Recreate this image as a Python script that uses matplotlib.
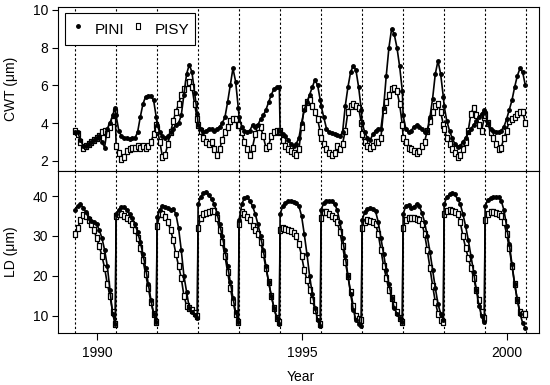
import numpy as np
import matplotlib
matplotlib.use("Agg")
import matplotlib.pyplot as plt
from matplotlib.lines import Line2D

plt.rcParams['font.family'] = ['Liberation Sans', 'DejaVu Sans']

# start of each growing season (dashed lines), decimal years
season_start = [1989.47, 1990.47, 1991.47, 1992.47, 1993.47, 1994.47,
                1995.47, 1996.47, 1997.47, 1998.47, 1999.47]
season_end = 2000.47

# cell wall thickness, um (16 samples per season)
cwt_pini = [
    [3.5, 3.5, 3.1, 2.8, 2.8, 2.9, 3.0, 3.1, 3.2, 3.3, 3.0, 2.7, 3.7, 4.0, 4.4, 4.8],
    [4.4, 3.6, 3.3, 3.2, 3.2, 3.15, 3.2, 3.2, 3.5, 4.3, 5.0, 5.4, 5.45, 5.45, 5.2, 4.3],
    [3.9, 3.5, 3.3, 3.2, 3.3, 3.5, 3.7, 3.9, 4.0, 4.4, 5.5, 6.6, 7.1, 6.7, 5.6, 4.5],
    [3.9, 3.7, 3.5, 3.6, 3.7, 3.7, 3.6, 3.7, 3.8, 4.0, 4.3, 5.1, 6.0, 6.9, 6.2, 4.8],
    [4.3, 3.8, 3.6, 3.5, 3.6, 3.9, 3.8, 3.9, 4.2, 4.4, 4.7, 5.1, 5.5, 5.8, 5.9, 5.9],
    [3.6, 3.4, 3.3, 3.1, 2.9, 2.8, 2.9, 3.2, 4.0, 4.7, 5.1, 5.5, 5.9, 6.3, 6.0, 5.2],
    [4.9, 4.3, 3.7, 3.5, 3.45, 3.4, 3.35, 3.3, 3.5, 4.9, 5.9, 6.7, 7.05, 6.8, 5.9, 4.7],
    [4.0, 3.5, 3.2, 3.1, 3.4, 3.6, 3.7, 3.7, 4.8, 6.5, 8.0, 9.0, 8.7, 8.0, 7.0, 5.7],
    [4.4, 3.7, 3.5, 3.6, 3.8, 3.9, 3.8, 3.7, 3.5, 3.6, 4.3, 5.3, 6.6, 7.3, 6.6, 5.4],
    [4.9, 4.1, 3.6, 3.2, 2.9, 2.75, 2.8, 3.0, 3.2, 3.5, 3.7, 3.9, 4.1, 4.3, 4.5, 4.7],
    [4.6, 4.0, 3.7, 3.6, 3.5, 3.5, 3.6, 3.8, 4.2, 4.7, 5.2, 5.9, 6.5, 6.9, 6.7, 6.0],
]
cwt_pisy = [
    [3.6, 3.4, 3.0, 2.7, 2.8, 2.9, 3.0, 3.1, 3.2, 3.3, 3.5, 3.6, 3.4, 3.8, 4.1, 4.6],
    [2.8, 2.4, 2.1, 2.2, 2.5, 2.6, 2.7, 2.7, 2.8, 2.7, 2.8, 2.7, 2.8, 3.0, 3.4, 3.9],
    [3.7, 3.0, 2.2, 2.3, 2.9, 3.5, 4.1, 4.6, 5.0, 5.5, 5.8, 6.1, 6.2, 5.9, 5.0, 4.2],
    [3.9, 3.6, 3.2, 3.0, 2.9, 3.0, 2.6, 2.3, 2.6, 3.1, 3.5, 3.8, 4.1, 4.2, 4.2, 3.9],
    [3.9, 3.5, 3.0, 2.6, 2.3, 2.7, 3.4, 3.8, 3.8, 3.3, 2.7, 2.8, 3.3, 3.5, 3.6, 3.5],
    [3.6, 3.1, 2.8, 2.6, 2.5, 2.4, 2.3, 2.6, 3.8, 4.8, 5.1, 5.2, 4.9, 4.6, 4.2, 3.5],
    [3.2, 2.9, 2.6, 2.4, 2.3, 2.4, 2.8, 2.6, 2.9, 3.6, 4.6, 4.9, 5.0, 4.9, 4.8, 4.0],
    [3.4, 3.0, 2.8, 2.7, 2.8, 3.0, 3.0, 3.2, 4.7, 5.1, 5.5, 5.8, 5.85, 5.7, 5.0, 3.9],
    [3.2, 3.0, 2.7, 2.6, 2.5, 2.4, 2.5, 2.8, 3.0, 3.6, 4.1, 4.6, 4.9, 5.0, 4.6, 3.9],
    [3.7, 3.2, 2.9, 2.6, 2.4, 2.2, 2.3, 2.6, 3.0, 3.6, 4.5, 4.8, 4.4, 3.9, 3.6, 4.3],
    [4.4, 4.0, 3.5, 3.2, 2.9, 2.6, 2.7, 3.2, 3.6, 4.1, 4.2, 4.3, 4.5, 4.6, 4.6, 4.0],
]

# lumen diameter, um
ld_pini = [
    [36.5, 37.5, 38.0, 37.0, 36.0, 34.5, 33.8, 33.5, 33.0, 31.5, 29.5, 26.5, 22.5, 16.5, 10.5, 7.8],
    [35.5, 36.5, 37.3, 37.2, 36.5, 35.5, 34.5, 33.0, 31.0, 28.5, 25.5, 22.0, 18.0, 14.0, 10.5, 8.3],
    [34.8, 36.5, 37.6, 37.3, 36.9, 36.6, 36.8, 35.5, 32.0, 26.5, 20.0, 16.0, 12.0, 11.0, 10.3, 9.5],
    [38.0, 39.8, 40.7, 41.0, 40.2, 39.3, 38.0, 35.8, 33.0, 30.0, 26.5, 22.5, 18.5, 14.5, 11.0, 8.5],
    [34.0, 38.0, 39.5, 39.8, 38.8, 37.5, 35.5, 33.0, 30.0, 26.5, 22.5, 18.5, 15.0, 12.0, 9.5, 8.0],
    [35.5, 37.5, 38.3, 38.7, 38.8, 38.6, 38.3, 37.5, 35.0, 30.5, 25.5, 20.0, 15.5, 12.0, 9.0, 7.5],
    [36.5, 38.3, 38.8, 38.8, 38.7, 38.0, 36.5, 33.5, 29.5, 25.0, 20.0, 15.5, 11.5, 9.0, 8.0, 7.5],
    [34.0, 36.0, 36.8, 36.9, 36.8, 36.2, 33.5, 29.5, 25.5, 21.5, 18.0, 14.5, 12.0, 10.5, 9.3, 8.3],
    [35.5, 37.5, 37.8, 37.0, 37.3, 38.0, 37.5, 35.8, 33.5, 30.0, 26.0, 21.5, 17.0, 13.0, 10.5, 9.0],
    [38.0, 39.7, 40.4, 40.7, 40.4, 39.2, 38.0, 35.5, 32.5, 29.0, 25.0, 21.0, 16.5, 12.5, 10.0, 8.4],
    [37.5, 39.0, 39.5, 39.7, 39.8, 39.7, 38.8, 36.5, 32.5, 28.0, 23.0, 18.0, 14.0, 10.5, 8.2, 7.0],
]
ld_pisy = [
    [30.5, 32.0, 34.0, 35.2, 35.0, 34.0, 33.0, 31.5, 29.5, 27.5, 25.0, 22.0, 18.0, 15.0, 11.0, 8.0],
    [35.0, 35.5, 35.5, 35.0, 34.5, 34.0, 33.0, 31.5, 29.5, 27.0, 24.0, 20.5, 17.0, 13.5, 10.5, 8.5],
    [32.5, 35.5, 35.5, 34.8, 33.5, 31.5, 29.0, 25.5, 22.5, 19.5, 15.0, 12.5, 12.0, 11.5, 10.8, 9.8],
    [32.0, 34.5, 35.5, 35.8, 36.0, 36.3, 36.2, 34.5, 31.5, 28.5, 25.0, 21.0, 17.0, 13.5, 10.5, 8.3],
    [33.0, 36.0, 35.5, 34.8, 34.0, 32.5, 31.5, 30.5, 28.5, 25.5, 22.0, 18.5, 15.0, 12.0, 9.5, 8.3],
    [31.5, 32.0, 31.8, 31.5, 31.2, 30.8, 30.0, 28.0, 25.0, 21.5, 19.0, 16.5, 14.0, 11.5, 9.5, 7.8],
    [34.5, 36.0, 36.0, 35.5, 35.0, 34.5, 33.5, 31.0, 27.5, 23.5, 20.0, 16.0, 12.5, 10.0, 9.2, 9.0],
    [32.0, 33.5, 34.0, 33.8, 33.5, 33.0, 30.5, 26.5, 22.5, 19.5, 16.5, 14.5, 12.8, 11.0, 9.5, 8.3],
    [32.0, 34.0, 34.5, 34.5, 34.5, 34.3, 34.0, 33.0, 30.5, 26.5, 22.0, 17.5, 13.5, 10.5, 9.0, 8.3],
    [35.5, 36.3, 36.5, 36.3, 36.0, 35.5, 33.5, 30.0, 27.0, 24.5, 22.0, 19.5, 16.5, 14.0, 11.0, 9.5],
    [34.0, 35.5, 36.0, 36.0, 35.8, 35.5, 35.0, 33.5, 30.5, 27.0, 22.5, 18.0, 14.0, 11.0, 10.5, 10.5],
]

# samples spread evenly through each season
t = np.concatenate([s + np.linspace(0, 0.98, len(v))
                    for s, v in zip(season_start, cwt_pini)])

# tall open rectangle like the R square symbol
rect = [(-0.3, -0.5), (0.3, -0.5), (0.3, 0.5), (-0.3, 0.5), (-0.3, -0.5)]
pini_style = dict(color='black', lw=1.2, marker='o', ms=2.5, zorder=4)
pisy_style = dict(color='black', lw=1.2, marker=rect, ms=3.8, mfc='white',
                  mec='black', mew=0.9, zorder=3)

fig = plt.figure(figsize=(5.5, 3.85), dpi=100)
ax1 = fig.add_axes([0.106, 0.5566, 0.8745, 0.4244])
ax2 = fig.add_axes([0.106, 0.1343, 0.8745, 0.4223], sharex=ax1)

for ax, pini, pisy in [(ax1, cwt_pini, cwt_pisy), (ax2, ld_pini, ld_pisy)]:
    for s in season_start + [season_end]:
        ax.axvline(s, color='black', lw=0.8, ls=(0, (2, 2)), zorder=1)
    ax.plot(t, np.concatenate(pisy), **pisy_style)
    ax.plot(t, np.concatenate(pini), **pini_style)
    for sp in ax.spines.values():
        sp.set_linewidth(0.8)
    ax.tick_params(axis='y', direction='out', length=4.5, width=0.8,
                   labelsize=10, pad=3)

ax1.set_xlim(1989.06, 2000.79)
ax1.set_ylim(1.47, 10.14)
ax1.set_yticks([2, 4, 6, 8, 10])
ax1.tick_params(axis='x', bottom=False, labelbottom=False)

ax2.set_ylim(5.59, 46.34)
ax2.set_yticks([10, 20, 30, 40])
ax2.set_xticks([1990, 1995, 2000])
ax2.tick_params(axis='x', direction='out', length=5, width=0.8,
                labelsize=10, pad=4)

fig.text(11 / 550, 1 - 89 / 385, 'CWT (\u03bcm)', rotation=90,
         ha='center', va='center', fontsize=10)
fig.text(11 / 550, 1 - 252 / 385, 'LD (\u03bcm)', rotation=90,
         ha='center', va='center', fontsize=10)
fig.text(301 / 550, 1 - 377 / 385, 'Year', ha='center', va='center',
         fontsize=10)

handles = [Line2D([], [], color='black', ls='none', marker='o', ms=2.5),
           Line2D([], [], color='black', ls='none', marker=rect, ms=5,
                  mfc='white', mew=0.8)]
leg = ax1.legend(handles, ['PINI', 'PISY'], ncol=2, loc='upper left',
                 bbox_to_anchor=(0.0145, 0.967), fontsize=11,
                 fancybox=False, framealpha=1, edgecolor='black',
                 borderpad=0.35, handlelength=1.0, handleheight=1.8,
                 handletextpad=0.6, columnspacing=0.4, borderaxespad=0)
leg.get_frame().set_linewidth(0.8)
leg.set_zorder(10)

fig.savefig('out.png', dpi=100)
